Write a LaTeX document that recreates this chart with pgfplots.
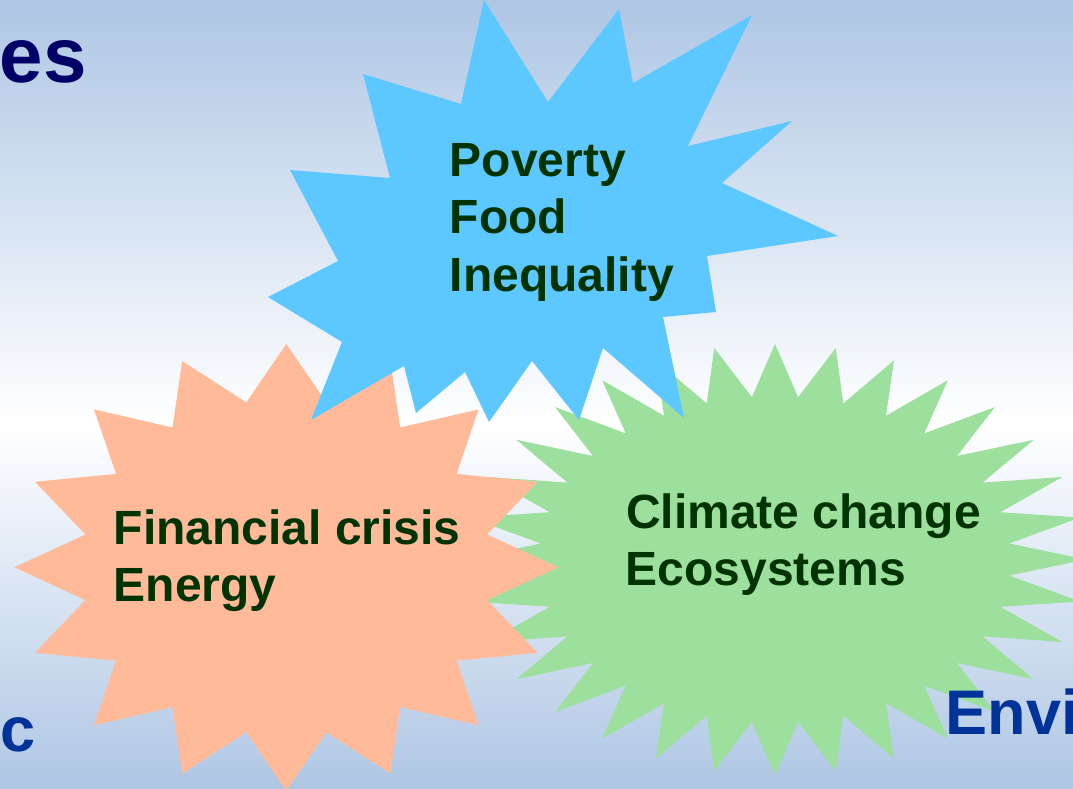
\documentclass[border=0pt]{standalone}
\usepackage{pgfplots}
\pgfplotsset{compat=1.18}
\usepackage{fontspec}
\setmainfont{Liberation Sans}
\definecolor{bgblue}{RGB}{174,198,228}
\definecolor{starblue}{RGB}{92,200,255}
\definecolor{starorange}{RGB}{255,187,153}
\definecolor{stargreen}{RGB}{157,224,157}
\definecolor{txtgreen}{RGB}{0,51,0}
\definecolor{navy}{RGB}{0,0,102}
\definecolor{catblue}{RGB}{0,51,153}
\newcommand\starfont{\fontsize{48}{57}\selectfont\bfseries}
\newcommand\catfont{\fontsize{63}{70}\selectfont\bfseries}
\begin{document}
\begin{tikzpicture}
\useasboundingbox (0,0) rectangle (1073pt,789pt);
\begin{axis}[at={(0,0)}, anchor=south west, scale only axis,
  width=1073pt, height=789pt, xmin=0, xmax=1073, ymin=0, ymax=789,
  y dir=reverse, hide axis, clip=true]
% background
\addplot[draw=none, top color=bgblue, bottom color=white] coordinates {(0,0) (1073,0) (1073,425) (0,425) (0,0)};
\addplot[draw=none, top color=white, bottom color=bgblue] coordinates {(0,424) (1073,424) (1073,789) (0,789) (0,424)};
% green star
\addplot[draw=none, fill=stargreen] coordinates {
(1086.0,559.5) (1009.3,543.5) (1080.0,517.5) (1000.3,512.2) (1062.3,477.0) (982.6,482.6)
(1033.6,439.8) (957.0,456.0) (994.9,407.1) (924.3,433.4) (947.8,380.3) (886.0,415.7)
(894.0,360.4) (843.3,403.4) (835.7,348.1) (798.1,397.2) (775.0,344.0)
(751.9,397.2) (714.3,348.1) (706.7,403.4) (656.0,360.4) (664.0,415.7) (602.2,380.3)
(625.7,433.4) (555.1,407.1) (593.0,456.0) (516.4,439.8) (567.4,482.6) (487.7,477.0)
(549.7,512.2) (470.0,517.5) (540.7,543.5) (464.0,559.5)
(540.7,575.5) (470.0,601.5) (549.7,606.8) (487.7,642.0) (567.4,636.4) (516.4,679.2)
(593.0,663.0) (555.1,711.9) (625.7,685.6) (602.2,738.7) (664.0,703.3) (656.0,758.6)
(706.7,715.6) (714.3,770.9) (751.9,721.8) (775.0,775.0)
(798.1,721.8) (835.7,770.9) (843.3,715.6) (894.0,758.6) (886.0,703.3) (947.8,738.7)
(924.3,685.6) (994.9,711.9) (957.0,663.0) (1033.6,679.2) (982.6,636.4) (1062.3,642.0)
(1000.3,606.8) (1080.0,601.5) (1009.3,575.5) (1086.0,559.5)};
% orange star
\addplot[draw=none, fill=starorange] coordinates {
(558.3,567.3) (487.2,534.5) (537.6,481.8) (456.6,473.9) (478.6,409.4) (400.1,427.5)
(390.4,361.0) (326.3,402.4) (286.3,344.0) (246.3,402.4) (182.2,361.0) (172.5,427.5)
(94.0,409.4) (116.0,473.9) (35.0,481.8) (85.4,534.5) (14.3,567.3) (85.4,600.1)
(35.0,652.8) (116.0,660.7) (94.0,725.2) (172.5,707.1) (182.2,773.6) (246.3,732.2)
(286.3,790.6) (326.3,732.2) (390.4,773.6) (400.1,707.1) (478.6,725.2) (456.6,660.7)
(537.6,652.8) (487.2,600.1) (558.3,567.3)};
% blue star
\addplot[draw=none, fill=starblue] coordinates {
(484,0) (548,102) (619,9) (633,83) (752,15) (688,146) (792,121) (722,183)
(838,236) (707,256) (716,312) (663,317) (684,418) (603,348) (579,420) (532,361)
(489,422) (465,372) (416,413) (404,366) (311,420) (342,342) (268,297) (338,261)
(290,170) (390,178) (363,74) (461,104) (484,0)};
% texts
\node[anchor=base west, inner sep=0, text=txtgreen, font=\starfont] at (axis cs:449.5,176) {Poverty};
\node[anchor=base west, inner sep=0, text=txtgreen, font=\starfont] at (axis cs:449.5,233.5) {Food};
\node[anchor=base west, inner sep=0, text=txtgreen, font=\starfont] at (axis cs:449.5,291) {Inequality};
\node[anchor=base west, inner sep=0, text=txtgreen, font=\starfont] at (axis cs:113.5,544) {Financial crisis};
\node[anchor=base west, inner sep=0, text=txtgreen, font=\starfont] at (axis cs:113.5,601) {Energy};
\node[anchor=base west, inner sep=0, text=txtgreen, font=\starfont] at (axis cs:626,528) {Climate change};
\node[anchor=base west, inner sep=0, text=txtgreen, font=\starfont] at (axis cs:625.5,585.5) {Ecosystems};
\node[anchor=base east, inner sep=0, text=navy, font={\fontsize{78}{80}\selectfont\bfseries}] at (axis cs:86.7,83) {Crises};
\node[anchor=base east, inner sep=0, text=catblue, font=\catfont] at (axis cs:36,751) {Economic};
\node[anchor=base west, inner sep=0, text=catblue, font=\catfont] at (axis cs:945.5,734) {Environmental};
\node[anchor=base west, inner sep=0, text=catblue, font=\catfont] at (axis cs:417,-0.3) {Social};
\end{axis}
\end{tikzpicture}
\end{document}
